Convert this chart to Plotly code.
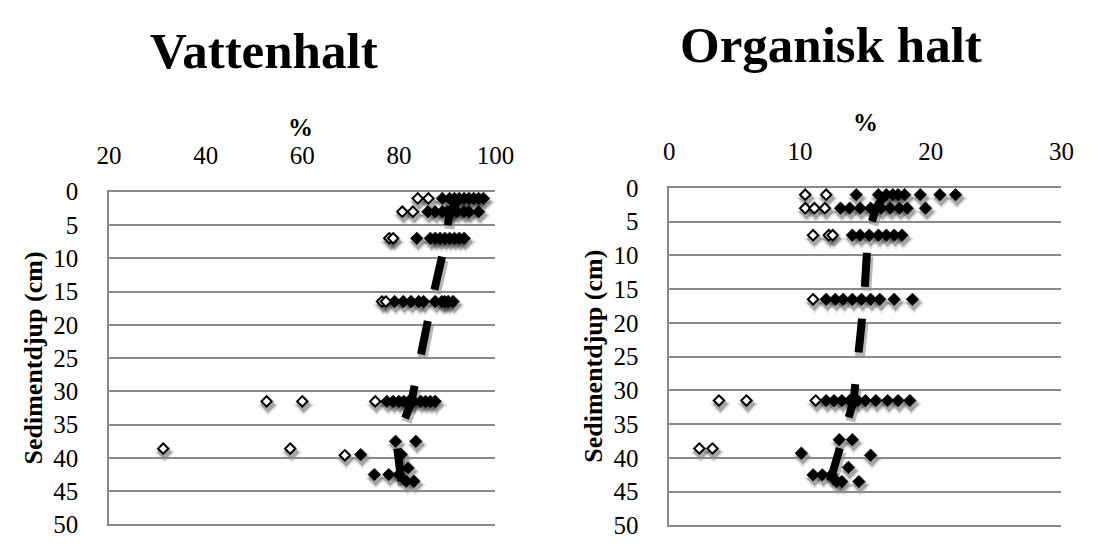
import plotly.graph_objects as go

# ---------------- Data: Vattenhalt (left) ----------------
vat_fill_depth = [1]*9 + [3]*9 + [7]*9 + [16.5]*10 + [31.5]*10 + [37.5, 37.5, 39.5, 39.5, 41.5, 42.5, 42.5, 42.5, 43.5, 43.5]
vat_fill_val = [89, 90.5, 91.5, 92.5, 93.5, 94.5, 95.5, 96.5, 97.5,
                86, 87.5, 89, 90, 91, 92, 93.5, 94.5, 96.5,
                83.7, 86.5, 87.5, 88.5, 89.5, 90.5, 91.5, 92.5, 93.5,
                79.1, 80.9, 82.5, 84.1, 85.1, 87.5, 88.9, 89.5, 90.2, 91.2,
                77.5, 78.8, 80, 81, 82, 83, 84.5, 85.5, 86.5, 87.5,
                79.3, 83.5, 72.1, 80.5, 81.9, 74.9, 77.9, 80.0, 81.5, 83.1]
vat_open_depth = [1, 1, 3, 3, 7, 7, 16.5, 16.5, 31.5, 31.5, 31.5, 38.6, 38.6, 39.6]
vat_open_val = [83.9, 86.1, 80.7, 82.9, 78.0, 78.8, 76.5, 77.3, 52.6, 60.0, 75.1, 31.2, 57.5, 68.8]
vat_mean_depth = [1, 3, 7, 16.5, 31.5, 37.5, 43.5]
vat_mean_val = [92.5, 90.5, 89.8, 86.8, 82.6, 79.5, 80.5]

# ---------------- Data: Organisk halt (right) ----------------
org_fill_depth = [1]*9 + [3]*9 + [7]*7 + [16.5]*9 + [31.5]*10 + [37.3, 37.3, 39.3, 39.6, 41.4, 42.5, 42.5, 42.5, 43.5, 43.5, 43.5]
org_fill_val = [14.3, 16.0, 16.6, 17.1, 17.5, 18.0, 19.2, 20.7, 21.9,
                13.1, 13.8, 14.6, 15.4, 16.2, 16.9, 17.6, 18.2, 19.6,
                14.0, 14.6, 15.3, 16.0, 16.6, 17.2, 17.8,
                12.0, 12.7, 13.3, 14.0, 14.7, 15.4, 16.1, 17.2, 18.6,
                12.0, 12.6, 13.2, 13.8, 14.4, 15.0, 15.8, 16.7, 17.5, 18.4,
                13.0, 14.0, 10.1, 15.4, 13.7, 11.0, 11.7, 12.4, 12.8, 13.2, 14.5]
org_open_depth = [1, 1, 3, 3, 3, 7, 7, 7, 16.5, 31.5, 31.5, 31.5, 38.6, 38.6]
org_open_val = [10.4, 12.0, 10.4, 11.1, 11.9, 11.0, 12.2, 12.5, 11.0, 3.8, 5.9, 11.2, 2.3, 3.3]
org_mean_depth = [1, 3, 7, 16.5, 31.5, 37.5, 43.5]
org_mean_val = [16.5, 15.8, 15.2, 14.9, 14.1, 13.2, 12.3]

titles = ["Vattenhalt", "Organisk halt"]
x_title = "%"
y_title = "Sedimentdjup (cm)"
vat_ticks = [20, 40, 60, 80, 100]
org_ticks = [0, 10, 20, 30]
depth_ticks = list(range(0, 55, 5))

W, H = 1096, 548
SERIF = "Liberation Serif"
GRID = "#8a8a8a"
SHADOW = "rgba(0,0,0,0.28)"
SHADOW_SOFT = "rgba(0,0,0,0.10)"
DASH = "30px,32px," + ",".join(["34px,32px"] * 8)

fig = go.Figure()

def add_shadow(xref, yref, fd, fv, od, ov, md, mv):
    fig.add_trace(go.Scatter(x=mv, y=md, mode="lines", xaxis=xref, yaxis=yref,
                             line=dict(color=SHADOW, width=10, dash=DASH),
                             showlegend=False, hoverinfo="skip"))
    fig.add_trace(go.Scatter(x=fv + ov, y=fd + od, mode="markers", xaxis=xref, yaxis=yref,
                             marker=dict(symbol="diamond", size=16, color=SHADOW_SOFT, line=dict(width=0)),
                             showlegend=False, hoverinfo="skip"))
    fig.add_trace(go.Scatter(x=fv + ov, y=fd + od, mode="markers", xaxis=xref, yaxis=yref,
                             marker=dict(symbol="diamond", size=12, color=SHADOW, line=dict(width=0)),
                             showlegend=False, hoverinfo="skip"))

def add_series(xref, yref, fd, fv, od, ov, md, mv):
    fig.add_trace(go.Scatter(x=mv, y=md, mode="lines", xaxis=xref, yaxis=yref,
                             line=dict(color="black", width=8, dash=DASH),
                             showlegend=False, hoverinfo="skip"))
    fig.add_trace(go.Scatter(x=fv, y=fd, mode="markers", xaxis=xref, yaxis=yref,
                             marker=dict(symbol="diamond", size=9.5, color="black",
                                         line=dict(color="black", width=0.8)),
                             showlegend=False))
    fig.add_trace(go.Scatter(x=ov, y=od, mode="markers", xaxis=xref, yaxis=yref,
                             marker=dict(symbol="diamond", size=8, color="white",
                                         line=dict(color="black", width=2)),
                             showlegend=False))

# shadows first (lower subplot ids are drawn underneath)
add_shadow("x", "y", vat_fill_depth, vat_fill_val, vat_open_depth, vat_open_val, vat_mean_depth, vat_mean_val)
add_shadow("x2", "y2", org_fill_depth, org_fill_val, org_open_depth, org_open_val, org_mean_depth, org_mean_val)
add_series("x3", "y3", vat_fill_depth, vat_fill_val, vat_open_depth, vat_open_val, vat_mean_depth, vat_mean_val)
add_series("x4", "y4", org_fill_depth, org_fill_val, org_open_depth, org_open_val, org_mean_depth, org_mean_val)

def px_x(a, b, dx=0):
    return [(a + dx) / W, (b + dx) / W]

def px_y(top, bottom, dy=0):
    return [1 - (bottom + dy) / H, 1 - (top + dy) / H]

L_X, L_Y = (99, 497), (188, 538)
R_X, R_Y = (676, 1080), (184, 539)
SDX, SDY = 1.5, 4

hidden = dict(visible=False, showgrid=False, zeroline=False)
# x axis line mirrored to the bottom gives the closing 50 cm line
xcommon = dict(side="top", showgrid=False, zeroline=False, showline=True, mirror=True,
               linecolor=GRID, linewidth=1.5, ticks="",
               tickfont=dict(family=SERIF, size=25, color="black"), ticklabelstandoff=16,
               ticklabeloverflow="allow")
ycommon = dict(range=[50, 0], tickvals=depth_ticks, showgrid=True, gridcolor=GRID, gridwidth=1.5,
               zeroline=False, showline=True, linecolor=GRID, linewidth=1.5, ticks="",
               tickfont=dict(family=SERIF, size=25, color="black"), ticklabelstandoff=24,
               ticklabeloverflow="allow")

fig.update_layout(
    width=W, height=H, margin=dict(l=0, r=0, t=0, b=0),
    paper_bgcolor="white", plot_bgcolor="rgba(0,0,0,0)",
    xaxis=dict(domain=px_x(*L_X, SDX), range=[20, 100], anchor="y", **hidden),
    yaxis=dict(domain=px_y(*L_Y, SDY), range=[50, 0], anchor="x", **hidden),
    xaxis2=dict(domain=px_x(*R_X, SDX), range=[0, 30], anchor="y2", **hidden),
    yaxis2=dict(domain=px_y(*R_Y, SDY), range=[50, 0], anchor="x2", **hidden),
    xaxis3=dict(domain=px_x(*L_X), range=[20, 100], tickvals=vat_ticks, anchor="y3", **xcommon),
    yaxis3=dict(domain=px_y(*L_Y), anchor="x3", **ycommon),
    xaxis4=dict(domain=px_x(*R_X), range=[0, 30], tickvals=org_ticks, anchor="y4", **xcommon),
    yaxis4=dict(domain=px_y(*R_Y), anchor="x4", **ycommon),
)

ann = []
for cx, cy, t in [(259, 40, titles[0]), (843, 34, titles[1])]:
    ann.append(dict(x=cx / W, y=1 - cy / H, xref="paper", yref="paper", text="<b>%s</b>" % t,
                    showarrow=False, font=dict(family=SERIF, size=51, color="black"),
                    xanchor="center", yanchor="middle"))
for cx, cy in [(296, 120), (878, 115)]:
    ann.append(dict(x=cx / W, y=1 - cy / H, xref="paper", yref="paper", text="<b>%s</b>" % x_title,
                    showarrow=False, font=dict(family=SERIF, size=25, color="black"),
                    xanchor="center", yanchor="middle"))
for cx, cy in [(21, 363), (598, 361)]:
    ann.append(dict(x=cx / W, y=1 - cy / H, xref="paper", yref="paper", text="<b>%s</b>" % y_title,
                    showarrow=False, textangle=-90, font=dict(family=SERIF, size=26, color="black"),
                    xanchor="center", yanchor="middle"))
fig.update_layout(annotations=ann)

fig.write_html("out.html", config={"displayModeBar": False},
               post_script="document.body.style.margin='0';")
